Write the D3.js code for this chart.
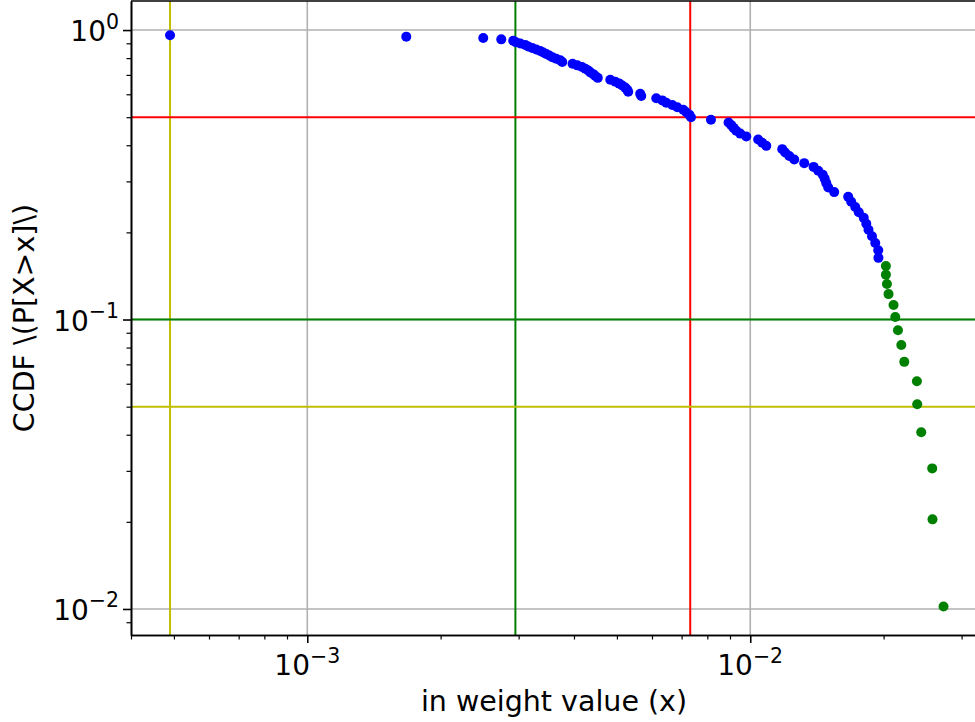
<!DOCTYPE html>
<html>
<head>
<meta charset="utf-8">
<script src="https://cdn.jsdelivr.net/npm/d3@7"></script>
<style>
  body { margin: 0; background: #fff; }
  svg { display: block; font-family: "DejaVu Sans", sans-serif; }
</style>
</head>
<body>
<svg id="chart" width="975" height="722"></svg>
<script>
// Body of the distribution (blue): in-weight value and its CCDF
const bodyWeight = [
  0.00049, 0.001673, 0.002496, 0.002741, 0.002917, 0.002956, 0.003026, 0.003105,
  0.003154, 0.00322, 0.003288, 0.003357, 0.00341, 0.003463, 0.003518, 0.003573,
  0.003648, 0.003725, 0.003764, 0.003971, 0.004069, 0.00417, 0.004242, 0.004309,
  0.004354, 0.004422, 0.004468, 0.004527, 0.004831, 0.004958, 0.005062, 0.005141,
  0.005221, 0.005276, 0.005303, 0.005644, 0.005675, 0.006135, 0.00633, 0.006463,
  0.006668, 0.006843, 0.00706, 0.007171, 0.007284, 0.007348, 0.008153, 0.008933,
  0.00906, 0.00917, 0.009298, 0.009493, 0.009795, 0.01042, 0.01064, 0.01087,
  0.01181, 0.01199, 0.01225, 0.01257, 0.01324, 0.0139, 0.01424, 0.01458,
  0.01473, 0.01485, 0.0150, 0.01547, 0.01664, 0.0169, 0.01726, 0.01758,
  0.01804, 0.01828, 0.01849, 0.01883, 0.01915, 0.01945, 0.01947
];
const bodyCcdf = [
  0.9592, 0.9490, 0.9388, 0.9286, 0.9184, 0.9082, 0.8980, 0.8878,
  0.8776, 0.8673, 0.8571, 0.8469, 0.8367, 0.8265, 0.8163, 0.8061,
  0.7959, 0.7857, 0.7755, 0.7653, 0.7551, 0.7449, 0.7347, 0.7245,
  0.7143, 0.7041, 0.6939, 0.6837, 0.6735, 0.6633, 0.6531, 0.6429,
  0.6327, 0.6224, 0.6122, 0.6020, 0.5918, 0.5816, 0.5714, 0.5612,
  0.5510, 0.5408, 0.5306, 0.5204, 0.5102, 0.5000, 0.4898, 0.4796,
  0.4694, 0.4592, 0.4490, 0.4388, 0.4286, 0.4184, 0.4082, 0.3980,
  0.3878, 0.3776, 0.3673, 0.3571, 0.3469, 0.3367, 0.3265, 0.3163,
  0.3061, 0.2959, 0.2857, 0.2755, 0.2653, 0.2551, 0.2449, 0.2347,
  0.2245, 0.2143, 0.2041, 0.1939, 0.1837, 0.1735, 0.1633
];

// Tail of the distribution (green)
const tailWeight = [
  0.02024, 0.02024, 0.02035, 0.02052, 0.02106, 0.02125, 0.02155, 0.02193,
  0.02227, 0.02378, 0.02382, 0.02432, 0.02575, 0.02579, 0.02731
];
const tailCcdf = [
  0.1531, 0.1429, 0.1327, 0.1224, 0.1122, 0.1020, 0.0918, 0.0816,
  0.0714, 0.0612, 0.0510, 0.0408, 0.0306, 0.0204, 0.0102
];

// Reference levels: vertical (weight) and horizontal (CCDF) markers
const weightMarkers = [0.00049, 0.00295, 0.00732];
const ccdfMarkers = [0.05, 0.1, 0.5];

// Axis extents and labelled ticks
const xExtent = [4.0e-4, 0.0325];
const yExtent = [0.00813, 1.26];
const xMajorTicks = [1e-3, 1e-2];
const yMajorTicks = [1, 0.1, 0.01];
const xLabel = "in weight value (x)";
const yLabel = "CCDF \\(P[X>x]\\)";

const svg = d3.select("#chart");
const plotLeft = 131, plotRight = 977, plotTop = 1, plotBottom = 635;

const x = d3.scaleLog().domain(xExtent).range([plotLeft, plotRight]);
const y = d3.scaleLog().domain(yExtent).range([plotBottom, plotTop]);

const markerColor = ["#bfbf00", "#008000", "#ff0000"];       // weight markers, left to right
const levelColor = d3.scaleOrdinal().domain(ccdfMarkers).range(["#bfbf00", "#008000", "#ff0000"]);

svg.append("defs").append("clipPath").attr("id", "plot-clip")
  .append("rect").attr("x", plotLeft).attr("y", plotTop)
  .attr("width", plotRight - plotLeft).attr("height", plotBottom - plotTop);

const plot = svg.append("g").attr("clip-path", "url(#plot-clip)");

// major grid
plot.append("g").selectAll("line").data(xMajorTicks).join("line")
  .attr("x1", d => x(d)).attr("x2", d => x(d))
  .attr("y1", plotTop).attr("y2", plotBottom)
  .attr("stroke", "#b0b0b0").attr("stroke-width", 1.6);
plot.append("g").selectAll("line").data(yMajorTicks).join("line")
  .attr("x1", plotLeft).attr("x2", plotRight)
  .attr("y1", d => y(d)).attr("y2", d => y(d))
  .attr("stroke", "#b0b0b0").attr("stroke-width", 1.6);

// reference lines
plot.append("g").selectAll("line").data(weightMarkers).join("line")
  .attr("x1", d => x(d)).attr("x2", d => x(d))
  .attr("y1", plotTop).attr("y2", plotBottom)
  .attr("stroke", (d, i) => markerColor[i]).attr("stroke-width", 2);
plot.append("g").selectAll("line").data(ccdfMarkers).join("line")
  .attr("x1", plotLeft).attr("x2", plotRight)
  .attr("y1", d => y(d)).attr("y2", d => y(d))
  .attr("stroke", d => levelColor(d)).attr("stroke-width", 2);

// points
const body = bodyWeight.map((w, i) => ({ w, p: bodyCcdf[i] }));
const tail = tailWeight.map((w, i) => ({ w, p: tailCcdf[i] }));
plot.append("g").selectAll("circle").data(body).join("circle")
  .attr("cx", d => x(d.w)).attr("cy", d => y(d.p)).attr("r", 5)
  .attr("fill", "#0000ff");
plot.append("g").selectAll("circle").data(tail).join("circle")
  .attr("cx", d => x(d.w)).attr("cy", d => y(d.p)).attr("r", 5)
  .attr("fill", "#008000");

// axes: major and minor ticks
const isMajor = v => Math.abs(Math.log10(v) - Math.round(Math.log10(v))) < 1e-9;
const xMinor = x.ticks().filter(v => !isMajor(v));
const yMinor = y.ticks().filter(v => !isMajor(v));

function styleAxis(g, width) {
  g.select(".domain").attr("stroke", "#000").attr("stroke-width", 1.6);
  g.selectAll(".tick line").attr("stroke", "#000").attr("stroke-width", width);
  g.selectAll(".tick text").remove();
}

svg.append("g").attr("transform", `translate(0,${plotBottom})`)
  .call(d3.axisBottom(x).tickValues(xMinor).tickSize(4.5).tickSizeOuter(0).tickFormat(""))
  .call(g => styleAxis(g, 1.2));
svg.append("g").attr("transform", `translate(0,${plotBottom})`)
  .call(d3.axisBottom(x).tickValues(xMajorTicks).tickSize(8).tickSizeOuter(0).tickFormat(""))
  .call(g => styleAxis(g, 1.6));
svg.append("g").attr("transform", `translate(${plotLeft},0)`)
  .call(d3.axisLeft(y).tickValues(yMinor).tickSize(4.5).tickSizeOuter(0).tickFormat(""))
  .call(g => styleAxis(g, 1.2));
svg.append("g").attr("transform", `translate(${plotLeft},0)`)
  .call(d3.axisLeft(y).tickValues(yMajorTicks).tickSize(8).tickSizeOuter(0).tickFormat(""))
  .call(g => styleAxis(g, 1.6));

// top frame
svg.append("line").attr("x1", plotLeft).attr("x2", plotRight).attr("y1", plotTop).attr("y2", plotTop)
  .attr("stroke", "#000").attr("stroke-width", 1.6);

// power-of-ten tick labels
const expText = v => { const e = Math.round(Math.log10(v)); return e < 0 ? "\u2212" + (-e) : String(e); };
function powerLabel(sel) {
  sel.append("tspan").text("10");
  sel.append("tspan").attr("font-size", 20.5).attr("dy", -12.5).text(d => expText(d));
}
svg.append("g").selectAll("text").data(xMajorTicks).join("text")
  .attr("x", d => x(d)).attr("y", 675).attr("text-anchor", "middle")
  .attr("font-size", 28).attr("fill", "#000")
  .call(powerLabel);
svg.append("g").selectAll("text").data(yMajorTicks).join("text")
  .attr("x", 119).attr("y", d => y(d) + 11).attr("text-anchor", "end")
  .attr("font-size", 28).attr("fill", "#000")
  .call(powerLabel);

// axis titles
svg.append("text").attr("x", (plotLeft + plotRight) / 2).attr("y", 711)
  .attr("text-anchor", "middle").attr("font-size", 28.5).attr("fill", "#000")
  .text(xLabel);
svg.append("text").attr("transform", `translate(34,${(plotTop + plotBottom) / 2}) rotate(-90)`)
  .attr("text-anchor", "middle").attr("font-size", 28.5).attr("fill", "#000")
  .text(yLabel);
</script>
</body>
</html>
